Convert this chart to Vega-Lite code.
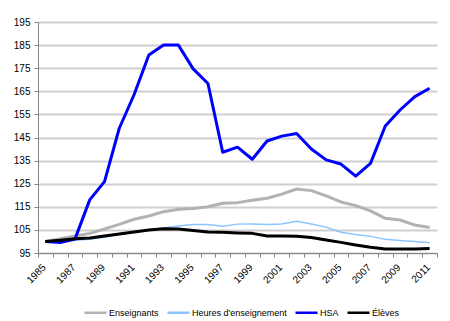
{
  "$schema": "https://vega.github.io/schema/vega-lite/v6.json",
  "width": 399,
  "height": 231,
  "autosize": {"type": "none"},
  "padding": {"left": 38, "top": 22, "right": 13, "bottom": 68},
  "background": "white",
  "config": {
    "font": "Liberation Sans",
    "view": {"stroke": null},
    "axis": {"labelFont": "Liberation Sans", "labelFontSize": 10, "labelColor": "#000000", "domainColor": "#868686", "tickColor": "#868686", "titleFontSize": 10}
  },
  "data": {
    "values": [
      {"year": 1985, "serie": "Enseignants", "value": 100},
      {"year": 1986, "serie": "Enseignants", "value": 101.2},
      {"year": 1987, "serie": "Enseignants", "value": 102.4},
      {"year": 1988, "serie": "Enseignants", "value": 103.5},
      {"year": 1989, "serie": "Enseignants", "value": 105.4},
      {"year": 1990, "serie": "Enseignants", "value": 107.4},
      {"year": 1991, "serie": "Enseignants", "value": 109.6},
      {"year": 1992, "serie": "Enseignants", "value": 111},
      {"year": 1993, "serie": "Enseignants", "value": 112.9},
      {"year": 1994, "serie": "Enseignants", "value": 113.9},
      {"year": 1995, "serie": "Enseignants", "value": 114.3},
      {"year": 1996, "serie": "Enseignants", "value": 115},
      {"year": 1997, "serie": "Enseignants", "value": 116.5},
      {"year": 1998, "serie": "Enseignants", "value": 116.8},
      {"year": 1999, "serie": "Enseignants", "value": 117.8},
      {"year": 2000, "serie": "Enseignants", "value": 118.7},
      {"year": 2001, "serie": "Enseignants", "value": 120.5},
      {"year": 2002, "serie": "Enseignants", "value": 122.7},
      {"year": 2003, "serie": "Enseignants", "value": 122},
      {"year": 2004, "serie": "Enseignants", "value": 119.7},
      {"year": 2005, "serie": "Enseignants", "value": 117.1},
      {"year": 2006, "serie": "Enseignants", "value": 115.5},
      {"year": 2007, "serie": "Enseignants", "value": 113.2},
      {"year": 2008, "serie": "Enseignants", "value": 110},
      {"year": 2009, "serie": "Enseignants", "value": 109.3},
      {"year": 2010, "serie": "Enseignants", "value": 107.1},
      {"year": 2011, "serie": "Enseignants", "value": 106},
      {"year": 1985, "serie": "Heures d'enseignement", "value": 100},
      {"year": 1986, "serie": "Heures d'enseignement", "value": 99.6},
      {"year": 1987, "serie": "Heures d'enseignement", "value": 100.5},
      {"year": 1988, "serie": "Heures d'enseignement", "value": 101},
      {"year": 1989, "serie": "Heures d'enseignement", "value": 101.8},
      {"year": 1990, "serie": "Heures d'enseignement", "value": 103},
      {"year": 1991, "serie": "Heures d'enseignement", "value": 104},
      {"year": 1992, "serie": "Heures d'enseignement", "value": 105},
      {"year": 1993, "serie": "Heures d'enseignement", "value": 105.8},
      {"year": 1994, "serie": "Heures d'enseignement", "value": 106.7},
      {"year": 1995, "serie": "Heures d'enseignement", "value": 107.3},
      {"year": 1996, "serie": "Heures d'enseignement", "value": 107.3},
      {"year": 1997, "serie": "Heures d'enseignement", "value": 106.6},
      {"year": 1998, "serie": "Heures d'enseignement", "value": 107.5},
      {"year": 1999, "serie": "Heures d'enseignement", "value": 107.6},
      {"year": 2000, "serie": "Heures d'enseignement", "value": 107.3},
      {"year": 2001, "serie": "Heures d'enseignement", "value": 107.6},
      {"year": 2002, "serie": "Heures d'enseignement", "value": 108.7},
      {"year": 2003, "serie": "Heures d'enseignement", "value": 107.6},
      {"year": 2004, "serie": "Heures d'enseignement", "value": 106.2},
      {"year": 2005, "serie": "Heures d'enseignement", "value": 104},
      {"year": 2006, "serie": "Heures d'enseignement", "value": 103},
      {"year": 2007, "serie": "Heures d'enseignement", "value": 102.2},
      {"year": 2008, "serie": "Heures d'enseignement", "value": 100.9},
      {"year": 2009, "serie": "Heures d'enseignement", "value": 100.4},
      {"year": 2010, "serie": "Heures d'enseignement", "value": 100},
      {"year": 2011, "serie": "Heures d'enseignement", "value": 99.4},
      {"year": 1985, "serie": "HSA", "value": 100},
      {"year": 1986, "serie": "HSA", "value": 99.5},
      {"year": 1987, "serie": "HSA", "value": 101},
      {"year": 1988, "serie": "HSA", "value": 118},
      {"year": 1989, "serie": "HSA", "value": 125.9},
      {"year": 1990, "serie": "HSA", "value": 149},
      {"year": 1991, "serie": "HSA", "value": 163.5},
      {"year": 1992, "serie": "HSA", "value": 180.7},
      {"year": 1993, "serie": "HSA", "value": 185},
      {"year": 1994, "serie": "HSA", "value": 185},
      {"year": 1995, "serie": "HSA", "value": 174.7},
      {"year": 1996, "serie": "HSA", "value": 168.4},
      {"year": 1997, "serie": "HSA", "value": 138.6},
      {"year": 1998, "serie": "HSA", "value": 140.8},
      {"year": 1999, "serie": "HSA", "value": 135.6},
      {"year": 2000, "serie": "HSA", "value": 143.5},
      {"year": 2001, "serie": "HSA", "value": 145.6},
      {"year": 2002, "serie": "HSA", "value": 146.7},
      {"year": 2003, "serie": "HSA", "value": 140},
      {"year": 2004, "serie": "HSA", "value": 135.3},
      {"year": 2005, "serie": "HSA", "value": 133.5},
      {"year": 2006, "serie": "HSA", "value": 128.3},
      {"year": 2007, "serie": "HSA", "value": 133.8},
      {"year": 2008, "serie": "HSA", "value": 150},
      {"year": 2009, "serie": "HSA", "value": 156.9},
      {"year": 2010, "serie": "HSA", "value": 162.7},
      {"year": 2011, "serie": "HSA", "value": 166.3},
      {"year": 1985, "serie": "Élèves", "value": 100},
      {"year": 1986, "serie": "Élèves", "value": 100.5},
      {"year": 1987, "serie": "Élèves", "value": 101.2},
      {"year": 1988, "serie": "Élèves", "value": 101.5},
      {"year": 1989, "serie": "Élèves", "value": 102.4},
      {"year": 1990, "serie": "Élèves", "value": 103.2},
      {"year": 1991, "serie": "Élèves", "value": 104.1},
      {"year": 1992, "serie": "Élèves", "value": 105},
      {"year": 1993, "serie": "Élèves", "value": 105.5},
      {"year": 1994, "serie": "Élèves", "value": 105.4},
      {"year": 1995, "serie": "Élèves", "value": 104.7},
      {"year": 1996, "serie": "Élèves", "value": 104.1},
      {"year": 1997, "serie": "Élèves", "value": 104},
      {"year": 1998, "serie": "Élèves", "value": 103.7},
      {"year": 1999, "serie": "Élèves", "value": 103.5},
      {"year": 2000, "serie": "Élèves", "value": 102.4},
      {"year": 2001, "serie": "Élèves", "value": 102.4},
      {"year": 2002, "serie": "Élèves", "value": 102.3},
      {"year": 2003, "serie": "Élèves", "value": 101.7},
      {"year": 2004, "serie": "Élèves", "value": 100.6},
      {"year": 2005, "serie": "Élèves", "value": 99.6},
      {"year": 2006, "serie": "Élèves", "value": 98.5},
      {"year": 2007, "serie": "Élèves", "value": 97.5},
      {"year": 2008, "serie": "Élèves", "value": 96.7},
      {"year": 2009, "serie": "Élèves", "value": 96.7},
      {"year": 2010, "serie": "Élèves", "value": 96.7},
      {"year": 2011, "serie": "Élèves", "value": 97}
    ]
  },
  "encoding": {
    "x": {
      "field": "year",
      "type": "ordinal",
      "bandPosition": 0.5,
      "scale": {"type": "band", "paddingInner": 0, "paddingOuter": 0},
      "axis": {
        "title": null,
        "labelAngle": -45,
        "labelAlign": "right",
        "labelBaseline": "top",
        "labelPadding": 5,
        "labelOffset": -5,
        "tickBand": "extent",
        "tickSize": 4,
        "labelExpr": "datum.value % 2 == 1 ? datum.label : ''",
        "grid": false
      }
    },
    "y": {
      "field": "value",
      "type": "quantitative",
      "scale": {"domain": [95, 195], "nice": false, "zero": false},
      "axis": {
        "title": null,
        "grid": true,
        "gridColor": "#cfcfcf",
        "gridWidth": 2,
        "values": [95, 105, 115, 125, 135, 145, 155, 165, 175, 185, 195],
        "tickSize": 4,
        "labelPadding": 4
      }
    },
    "color": {
      "field": "serie",
      "type": "nominal",
      "sort": ["Enseignants", "Heures d'enseignement", "HSA", "Élèves"],
      "scale": {
        "domain": ["Enseignants", "Heures d'enseignement", "HSA", "Élèves"],
        "range": ["#b2b2b2", "#8cc4ff", "#0000ff", "#000000"]
      },
      "legend": {
        "title": null,
        "orient": "none",
        "legendX": 45,
        "legendY": 278,
        "direction": "horizontal",
        "symbolType": "stroke",
        "symbolSize": 484,
        "symbolStrokeWidth": 2.5,
        "labelFontSize": 9,
        "labelFont": "Liberation Sans",
        "labelColor": "#000000",
        "labelOffset": 1,
        "columnPadding": 3
      }
    }
  },
  "layer": [
    {
      "transform": [{"filter": "datum.serie === \"Heures d'enseignement\""}],
      "mark": {"type": "line", "strokeWidth": 1.5, "strokeJoin": "round"}
    },
    {
      "transform": [{"filter": "datum.serie !== \"Heures d'enseignement\""}],
      "mark": {"type": "line", "strokeWidth": 3, "strokeJoin": "round"}
    }
  ]
}
